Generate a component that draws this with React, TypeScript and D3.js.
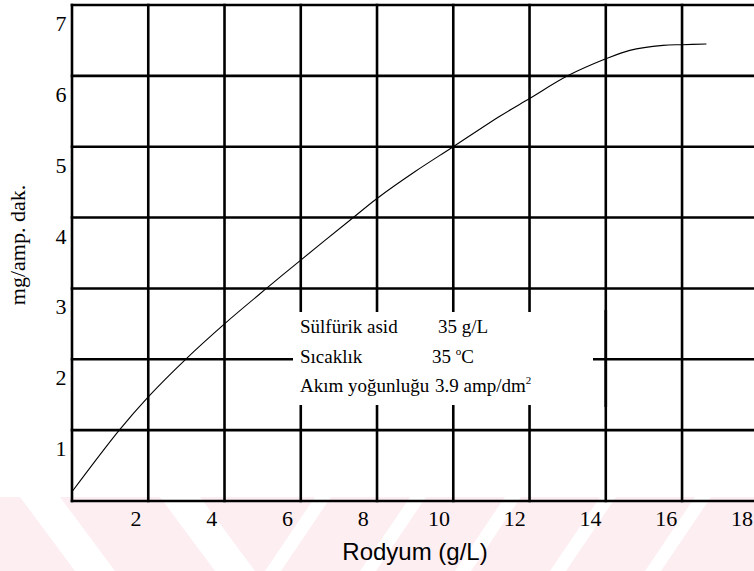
import React from "react";
import * as d3 from "d3";

// Data
const rodyum = [0, 1.24, 2, 2.98, 4, 5.1, 6, 7.33, 8, 9, 10, 11.22, 12, 13, 14, 14.63, 15.5, 16, 16.64];
const mgPerAmpMin = [0.13, 1.0, 1.47, 2.0, 2.5, 3.0, 3.4, 3.98, 4.27, 4.65, 5.0, 5.43, 5.68, 6.0, 6.24, 6.36, 6.43, 6.44, 6.45];
const xTickValues = [2, 4, 6, 8, 10, 12, 14, 16, 18];
const yTickValues = [1, 2, 3, 4, 5, 6, 7];
const xGridValues = [0, 2, 4, 6, 8, 10, 12, 14, 16, 18];
const yGridValues = [0, 1, 2, 3, 4, 5, 6, 7];
const xTitle = "Rodyum (g/L)";
const yTitle = "mg/amp. dak.";
const noteLabels = ["Sülfürik asid", "Sıcaklık", "Akım yoğunluğu"];
const noteValues = ["35 g/L", "35 ", "3.9 amp/dm"];

const W = 754;
const H = 571;

export default function App() {
  const x = d3.scaleLinear().domain([0, 18]).range([72, 758.3]);
  const y = d3.scaleLinear().domain([0, 7]).range([501, 5]);
  // tick labels in the scan sit slightly left of their grid lines
  const xLabel = d3.scaleLinear().domain([0, 18]).range([60.3, 742]);

  const pts = rodyum.map((v, i) => [v, mgPerAmpMin[i]] as [number, number]);
  const line = d3
    .line<[number, number]>()
    .x((d) => x(d[0]))
    .y((d) => y(d[1]))
    .curve(d3.curveCatmullRom.alpha(0.5));

  const serif = "'Liberation Serif', 'Times New Roman', serif";
  const sans = "'Liberation Sans', Arial, sans-serif";

  // watermark stripes (decorative)
  const wmTop = 497;
  const wmBot = H;
  const wmH = wmBot - wmTop;
  const backStripes = [20, 160];
  const fwdStripes = [315, 410, 505, 600, 695];

  // annotation box
  const boxX0 = 293;
  const boxX1 = 593;
  const boxY0 = 312;
  const boxY1 = 405;

  return (
    <svg
      width={W}
      height={H}
      style={{ position: "absolute", left: 0, top: 0, background: "#fff" }}
    >
      {/* watermark */}
      <g>
        <rect x={0} y={wmTop} width={W} height={wmH} fill="#fdeef2" />
        {backStripes.map((a, i) => (
          <polygon
            key={"b" + i}
            points={`${a},${wmTop} ${a + 40},${wmTop} ${a + 40 + 55},${wmBot} ${a + 55},${wmBot}`}
            fill="#fff"
          />
        ))}
        {fwdStripes.map((b, i) => (
          <polygon
            key={"f" + i}
            points={`${b},${wmTop} ${b + 16},${wmTop} ${b + 16 - 50},${wmBot} ${b - 50},${wmBot}`}
            fill="#fff"
          />
        ))}
      </g>

      {/* grid */}
      <g stroke="#000" strokeWidth={2.6} strokeLinecap="square">
        {yGridValues.map((v) => (
          <line key={"h" + v} x1={x(0)} x2={W + 5} y1={y(v)} y2={y(v)} />
        ))}
        {xGridValues.map((v) => (
          <line key={"v" + v} x1={x(v)} x2={x(v)} y1={y(0)} y2={y(7)} />
        ))}
      </g>

      {/* annotation box blanking grid */}
      <rect x={boxX0} y={boxY0} width={boxX1 - boxX0} height={boxY1 - boxY0} fill="#fff" />
      <line x1={x(14)} x2={x(14)} y1={boxY0 - 2} y2={boxY1 + 2} stroke="#000" strokeWidth={2.6} />

      {/* curve */}
      <path d={line(pts) || ""} fill="none" stroke="#000" strokeWidth={1.1} />

      {/* x tick labels */}
      <g fontFamily={serif} fontSize={22} textAnchor="middle" fill="#000">
        {xTickValues.map((v) => (
          <text key={"xt" + v} x={xLabel(v)} y={526}>
            {v}
          </text>
        ))}
      </g>

      {/* y tick labels */}
      <g fontFamily={serif} fontSize={22} textAnchor="middle" fill="#000">
        {yTickValues.map((v) => (
          <text key={"yt" + v} x={61} y={y(v) + 26}>
            {v}
          </text>
        ))}
      </g>

      {/* axis titles */}
      <text x={415} y={560} fontFamily={sans} fontSize={24} textAnchor="middle" fill="#000">
        {xTitle}
      </text>
      <text
        transform={`translate(25,245) rotate(-90)`}
        fontFamily={serif}
        fontSize={22}
        textAnchor="middle"
        fill="#000"
      >
        {yTitle}
      </text>

      {/* annotation */}
      <g fontFamily={serif} fontSize={19} fill="#000">
        <text x={300} y={333}>{noteLabels[0]}</text>
        <text x={438} y={333}>{noteValues[0]}</text>
        <text x={300} y={363}>{noteLabels[1]}</text>
        <text x={432} y={363}>
          {noteValues[1]}
          <tspan fontSize={11} dy={-8}>o</tspan>
          <tspan dy={8}>C</tspan>
        </text>
        <text x={300} y={392}>{noteLabels[2]}</text>
        <text x={435} y={392}>
          {noteValues[2]}
          <tspan fontSize={11} dy={-8}>2</tspan>
        </text>
      </g>
    </svg>
  );
}
